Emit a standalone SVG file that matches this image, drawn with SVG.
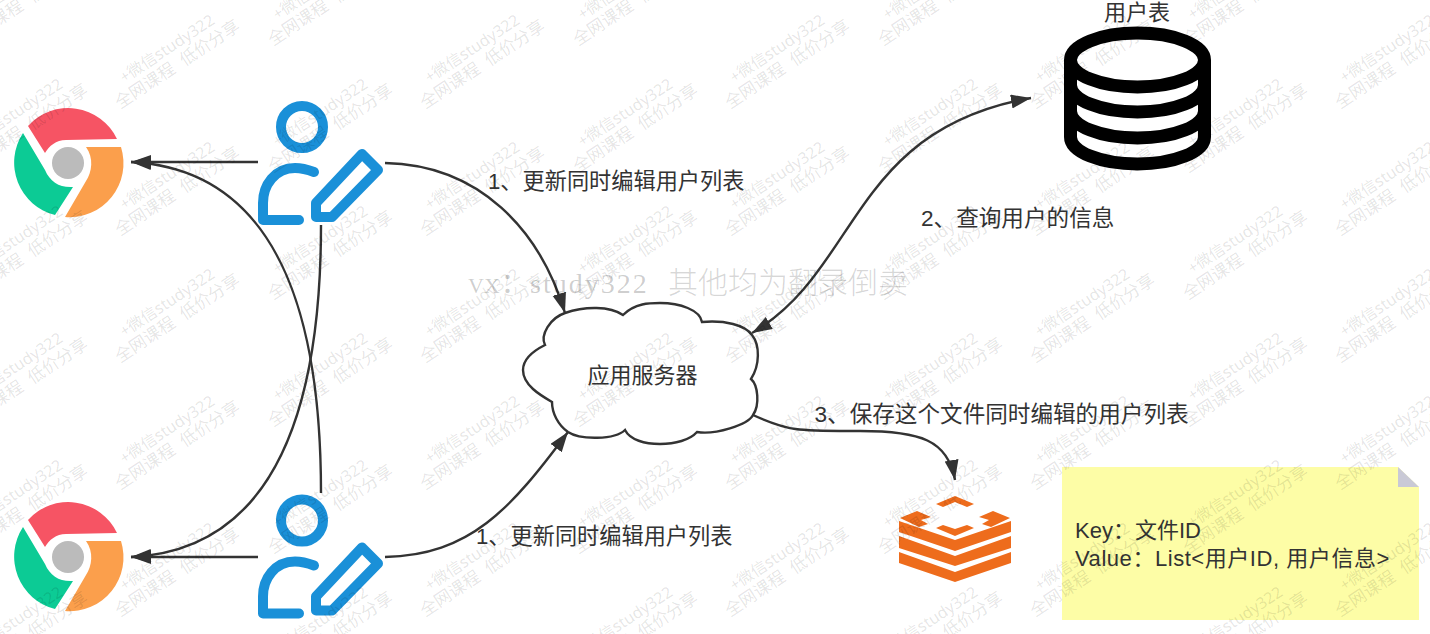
<svg xmlns="http://www.w3.org/2000/svg" width="1430" height="634" viewBox="0 0 1430 634">
<style>
text{font-family:"Liberation Sans","Noto Sans CJK SC",sans-serif;fill:#333}
.lab{font-size:22.2px}
.lab2{font-size:22.6px}
.cl{font-size:22px}
.note{font-size:22px}
.mid{text-anchor:middle}
.wm text{font-family:"Noto Sans","Noto Sans CJK SC",sans-serif;font-size:16px;fill:#000;fill-opacity:.11;text-anchor:middle}
.wm .l2{font-size:17px;word-spacing:5px}
.vx{font-family:"Liberation Serif","Noto Sans CJK SC",serif;font-size:28px;fill:#000;fill-opacity:.2}
.conn{fill:none;stroke:#333;stroke-width:2.4}
.ublue{fill:none;stroke:#1a90d8;stroke-width:10;stroke-linecap:round;stroke-linejoin:round}
.dbs{fill:none;stroke:#000;stroke-width:13}
.rd{fill:#ee6c1c}
</style>
<defs>
<marker id="arr" markerUnits="userSpaceOnUse" markerWidth="22" markerHeight="16" refX="20" refY="7" orient="auto"><path d="M0,0L20,7L0,14L0,7Z" fill="#333"/></marker>
<marker id="arrs" markerUnits="userSpaceOnUse" markerWidth="22" markerHeight="16" refX="20" refY="7" orient="auto-start-reverse"><path d="M0,0L20,7L0,14L0,7Z" fill="#333"/></marker>
<g id="chrome">
<path d="M28,126A54,54 0 0 1 117,139L66,140C56,140 49,146 45,153Z" fill="#f65464"/>
<path d="M23,133L45,170C50,182 60,188 73,187L55,215A54,54 0 0 1 23,133Z" fill="#0ccb95"/>
<path d="M86,147L121,147A54,54 0 0 1 65,217L86,181C92,172 94,158 86,147Z" fill="#fb9f4c"/>
<circle cx="68" cy="163" r="16" fill="#bbb"/>
</g>
<g id="editor">
<circle cx="302" cy="127" r="21" class="ublue"/>
<path class="ublue" d="M314,172C306,169 300,168 295,168C275,168 263,185 263,203L263,220L299,220"/>
<path class="ublue" d="M316,217L316,203L362,154L378,170L332,217Z"/>
</g>
<g id="wm" class="wm"><text x="54" y="0">+微信study322</text><text class="l2" x="54" y="19">全网课程 低价分享</text></g>
</defs>
<g id="browser-top"><use href="#chrome"/></g>
<g id="browser-bottom"><use href="#chrome" y="394"/></g>
<g id="user-top"><use href="#editor"/></g>
<g id="user-bottom"><use href="#editor" y="393.5"/></g>
<g id="cloud"><path d="M565,313C585,306 610,306 623,315C635,303 650,303 660,303C680,303 700,310 702,322C725,320 745,325 752,335C760,345 760,365 751,379C758,385 760,405 753,415C748,425 715,435 697,432C690,440 675,444 660,444C645,444 630,440 625,430C615,440 580,440 568,432C558,425 552,413 552,402C540,395 523,385 523,370C523,358 535,350 545,345C540,335 550,318 565,313Z" fill="#fff" stroke="#333" stroke-width="2.400"/>
<text class="cl mid" x="642.500" y="383">应用服务器</text></g>
<g id="database">
<text class="cl mid" x="1137" y="20">用户表</text>
<ellipse class="dbs" cx="1137.500" cy="60" rx="67" ry="27"/>
<path class="dbs" d="M1070.500,60V137A67,27 0 0 0 1204.500,137V60M1070.500,85A67,27 0 0 0 1204.500,85M1070.500,111A67,27 0 0 0 1204.500,111"/>
</g>
<g id="redis">
<path class="rd" d="M899,521L955,540L1011,521V532L955,551L899,532Z"/>
<path class="rd" d="M899,536L955,556L1011,536V548L955,566L899,548Z"/>
<path class="rd" d="M899,552L955,572L1011,552V563L955,582L899,563Z"/>
<path class="rd" d="M936,504L955,496L974,504L967,507L955,502L943,507Z"/>
<path class="rd" d="M936,528L943,525L955,529L967,525L974,528L955,536Z"/>
<path class="rd" d="M900,518L917,511L931,517L921,520L928,524L919,527Z"/>
<path class="rd" d="M1010,518L993,511L979,517L989,520L982,524L991,527Z"/>
</g>
<g id="note">
<path d="M1062,467H1398L1419,487V620H1062Z" fill="#fdfda6"/>
<path d="M1398,467L1419,487H1398Z" fill="#c9c9d6"/>
<text class="note" x="1075" y="538">Key：文件ID</text>
<text class="note" x="1075" y="566" letter-spacing=".55">Value：List&lt;用户ID, 用户信息&gt;</text>
</g>
<g id="connectors">
<path class="conn" d="M258,162H131" marker-end="url(#arr)"/>
<path class="conn" d="M258,557H131" marker-end="url(#arr)"/>
<path class="conn" d="M321,493C321,340 290,170 131,162" marker-end="url(#arr)"/>
<path class="conn" d="M321,225C321,400 280,550 131,557" marker-end="url(#arr)"/>
<path class="conn" d="M385,163C480,165 540,230 565,313" marker-end="url(#arr)"/>
<path class="conn" d="M385,557C470,555 510,510 568,432" marker-end="url(#arr)"/>
<path class="conn" d="M752,333C860,270 850,130 1031,98" marker-start="url(#arrs)" marker-end="url(#arrs)"/>
<path class="conn" d="M753,415C790,432 800,431 860,431C920,431 948,440 955,480" marker-end="url(#arr)"/>
</g>
<g id="labels">
<text class="lab" x="488" y="189">1、更新同时编辑用户列表</text>
<text class="lab" x="476" y="544">1、更新同时编辑用户列表</text>
<text class="lab2" x="921" y="226">2、查询用户的信息</text>
<text class="lab2" x="814.500" y="422">3、保存这个文件同时编辑的用户列表</text>
</g>
<g id="watermarks">
<use href="#wm" transform="translate(-180 -44) rotate(-33.5)"/><use href="#wm" transform="translate(125 -44) rotate(-33.5)"/><use href="#wm" transform="translate(430 -44) rotate(-33.5)"/><use href="#wm" transform="translate(735 -44) rotate(-33.5)"/><use href="#wm" transform="translate(1040 -44) rotate(-33.5)"/><use href="#wm" transform="translate(1345 -44) rotate(-33.5)"/>
<use href="#wm" transform="translate(-180 83) rotate(-33.5)"/><use href="#wm" transform="translate(125 83) rotate(-33.5)"/><use href="#wm" transform="translate(430 83) rotate(-33.5)"/><use href="#wm" transform="translate(735 83) rotate(-33.5)"/><use href="#wm" transform="translate(1040 83) rotate(-33.5)"/><use href="#wm" transform="translate(1345 83) rotate(-33.5)"/>
<use href="#wm" transform="translate(-180 210) rotate(-33.5)"/><use href="#wm" transform="translate(125 210) rotate(-33.5)"/><use href="#wm" transform="translate(430 210) rotate(-33.5)"/><use href="#wm" transform="translate(735 210) rotate(-33.5)"/><use href="#wm" transform="translate(1040 210) rotate(-33.5)"/><use href="#wm" transform="translate(1345 210) rotate(-33.5)"/>
<use href="#wm" transform="translate(-180 337) rotate(-33.5)"/><use href="#wm" transform="translate(125 337) rotate(-33.5)"/><use href="#wm" transform="translate(430 337) rotate(-33.5)"/><use href="#wm" transform="translate(735 337) rotate(-33.5)"/><use href="#wm" transform="translate(1040 337) rotate(-33.5)"/><use href="#wm" transform="translate(1345 337) rotate(-33.5)"/>
<use href="#wm" transform="translate(-180 464) rotate(-33.5)"/><use href="#wm" transform="translate(125 464) rotate(-33.5)"/><use href="#wm" transform="translate(430 464) rotate(-33.5)"/><use href="#wm" transform="translate(735 464) rotate(-33.5)"/><use href="#wm" transform="translate(1040 464) rotate(-33.5)"/><use href="#wm" transform="translate(1345 464) rotate(-33.5)"/>
<use href="#wm" transform="translate(-180 591) rotate(-33.5)"/><use href="#wm" transform="translate(125 591) rotate(-33.5)"/><use href="#wm" transform="translate(430 591) rotate(-33.5)"/><use href="#wm" transform="translate(735 591) rotate(-33.5)"/><use href="#wm" transform="translate(1040 591) rotate(-33.5)"/><use href="#wm" transform="translate(1345 591) rotate(-33.5)"/>
<use href="#wm" transform="translate(-27 20) rotate(-33.5)"/><use href="#wm" transform="translate(278 20) rotate(-33.5)"/><use href="#wm" transform="translate(583 20) rotate(-33.5)"/><use href="#wm" transform="translate(888 20) rotate(-33.5)"/><use href="#wm" transform="translate(1193 20) rotate(-33.5)"/>
<use href="#wm" transform="translate(-27 147) rotate(-33.5)"/><use href="#wm" transform="translate(278 147) rotate(-33.5)"/><use href="#wm" transform="translate(583 147) rotate(-33.5)"/><use href="#wm" transform="translate(888 147) rotate(-33.5)"/><use href="#wm" transform="translate(1193 147) rotate(-33.5)"/>
<use href="#wm" transform="translate(-27 274) rotate(-33.5)"/><use href="#wm" transform="translate(278 274) rotate(-33.5)"/><use href="#wm" transform="translate(583 274) rotate(-33.5)"/><use href="#wm" transform="translate(888 274) rotate(-33.5)"/><use href="#wm" transform="translate(1193 274) rotate(-33.5)"/>
<use href="#wm" transform="translate(-27 401) rotate(-33.5)"/><use href="#wm" transform="translate(278 401) rotate(-33.5)"/><use href="#wm" transform="translate(583 401) rotate(-33.5)"/><use href="#wm" transform="translate(888 401) rotate(-33.5)"/><use href="#wm" transform="translate(1193 401) rotate(-33.5)"/>
<use href="#wm" transform="translate(-27 528) rotate(-33.5)"/><use href="#wm" transform="translate(278 528) rotate(-33.5)"/><use href="#wm" transform="translate(583 528) rotate(-33.5)"/><use href="#wm" transform="translate(888 528) rotate(-33.5)"/><use href="#wm" transform="translate(1193 528) rotate(-33.5)"/>
<use href="#wm" transform="translate(-27 655) rotate(-33.5)"/><use href="#wm" transform="translate(278 655) rotate(-33.5)"/><use href="#wm" transform="translate(583 655) rotate(-33.5)"/><use href="#wm" transform="translate(888 655) rotate(-33.5)"/><use href="#wm" transform="translate(1193 655) rotate(-33.5)"/>
</g>
<text class="vx" y="293"><tspan x="468" font-size="22">VX</tspan><tspan x="500.500">：</tspan><tspan x="530" letter-spacing="2">study322</tspan><tspan x="668" font-size="30" font-weight="300" fill-opacity=".17">其他均为翻录倒卖</tspan></text>
</svg>
